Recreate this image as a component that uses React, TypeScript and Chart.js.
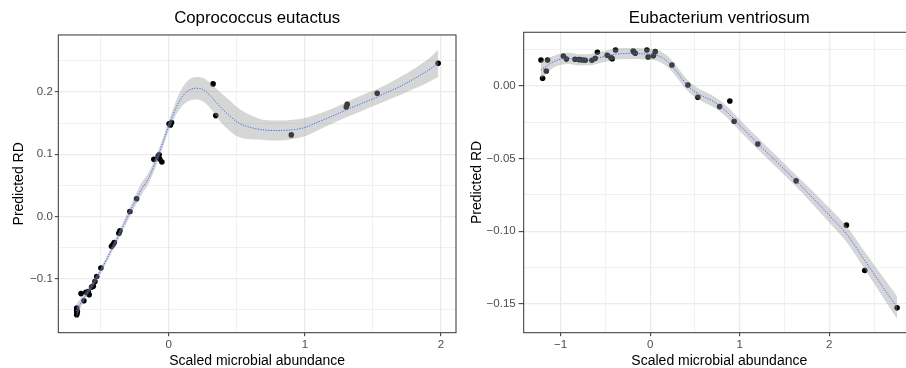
import React, { useEffect, useRef } from "react";
import { Chart, registerables } from "chart.js";

Chart.register(...registerables);

const FONT = "'Liberation Sans', Arial, Helvetica, sans-serif";

// ---------- Left panel: Coprococcus eutactus ----------
const leftTitle = "Coprococcus eutactus";
const leftPointX = [-0.677, -0.677, -0.675, -0.677, -0.672, -0.645, -0.624, -0.609, -0.592, -0.585, -0.567, -0.555, -0.543, -0.53, -0.499, -0.421, -0.41, -0.401, -0.367, -0.359, -0.286, -0.237, -0.11, -0.078, -0.071, -0.066, -0.051, 0.002, 0.012, 0.02, 0.325, 0.345, 0.9, 1.304, 1.311, 1.531, 1.979];
const leftPointY = [-0.147, -0.151, -0.155, -0.158, -0.153, -0.124, -0.1355, -0.122, -0.1205, -0.126, -0.1135, -0.112, -0.1045, -0.0965, -0.083, -0.048, -0.045, -0.042, -0.027, -0.023, 0.008, 0.0285, 0.0917, 0.0965, 0.099, 0.092, 0.0874, 0.149, 0.147, 0.151, 0.213, 0.162, 0.131, 0.176, 0.18, 0.198, 0.246];
const leftFitX = [-0.68, -0.64, -0.6, -0.55, -0.5, -0.45, -0.4, -0.35, -0.3, -0.25, -0.2, -0.15, -0.1, -0.05, 0, 0.05, 0.1, 0.15, 0.2, 0.25, 0.3, 0.35, 0.4, 0.45, 0.5, 0.6, 0.7, 0.8, 0.9, 1.0, 1.1, 1.2, 1.3, 1.4, 1.5, 1.6, 1.7, 1.8, 1.9, 1.98];
const leftFitY = [-0.152, -0.137, -0.123, -0.106, -0.087, -0.066, -0.045, -0.022, 0.001, 0.023, 0.044, 0.061, 0.086, 0.115, 0.146, 0.173, 0.193, 0.203, 0.206, 0.204, 0.195, 0.183, 0.171, 0.161, 0.152, 0.143, 0.139, 0.138, 0.139, 0.143, 0.152, 0.161, 0.171, 0.18, 0.189, 0.199, 0.209, 0.221, 0.234, 0.246];
const leftFitLow = [-0.163, -0.144, -0.128, -0.111, -0.092, -0.071, -0.05, -0.028, -0.006, 0.015, 0.035, 0.052, 0.078, 0.107, 0.138, 0.162, 0.178, 0.186, 0.188, 0.185, 0.175, 0.161, 0.147, 0.137, 0.129, 0.124, 0.123, 0.122, 0.124, 0.129, 0.139, 0.149, 0.159, 0.168, 0.177, 0.186, 0.195, 0.205, 0.215, 0.224];
const leftFitHigh = [-0.141, -0.13, -0.117, -0.101, -0.082, -0.061, -0.039, -0.016, 0.008, 0.032, 0.054, 0.07, 0.094, 0.122, 0.153, 0.184, 0.207, 0.22, 0.224, 0.223, 0.215, 0.205, 0.195, 0.186, 0.176, 0.163, 0.155, 0.154, 0.155, 0.158, 0.165, 0.173, 0.183, 0.193, 0.202, 0.212, 0.224, 0.237, 0.252, 0.268];
const leftXMajor = [0, 1, 2];
const leftXLabels = ["0", "1", "2"];
const leftXMinor = [-0.5, 0.5, 1.5];
const leftYMajor = [-0.1, 0, 0.1, 0.2];
const leftYLabels = ["\u22120.1", "0.0", "0.1", "0.2"];
const leftYMinor = [-0.15, -0.05, 0.05, 0.15, 0.25];

// ---------- Right panel: Eubacterium ventriosum ----------
const rightTitle = "Eubacterium ventriosum";
const rightPointX = [-1.22, -1.146, -1.202, -1.161, -0.97, -0.936, -0.84, -0.8, -0.785, -0.751, -0.725, -0.651, -0.614, -0.59, -0.48, -0.439, -0.424, -0.387, -0.19, -0.186, -0.167, -0.037, -0.024, 0.035, 0.056, 0.242, 0.421, 0.532, 0.775, 0.889, 0.9375, 1.202, 1.629, 2.191, 2.396, 2.757];
const rightPointY = [0.0179, 0.0179, 0.0053, 0.0103, 0.0206, 0.0185, 0.0184, 0.0182, 0.0181, 0.0179, 0.0177, 0.0177, 0.019, 0.0232, 0.0211, 0.0195, 0.0188, 0.0248, 0.024, 0.0235, 0.0225, 0.0248, 0.0199, 0.0208, 0.0236, 0.0144, 0.0007, -0.0078, -0.0142, -0.0103, -0.0243, -0.0399, -0.0653, -0.0958, -0.127, -0.1527];
const rightFitX = [-1.22, -1.15, -1.1, -1.0, -0.9, -0.8, -0.7, -0.6, -0.5, -0.4, -0.3, -0.2, -0.1, 0, 0.1, 0.2, 0.3, 0.4, 0.5, 0.6, 0.7, 0.8, 0.9, 1.0, 1.2, 1.4, 1.6, 1.8, 2.0, 2.2, 2.4, 2.6, 2.757];
const rightFitY = [0.011, 0.014, 0.016, 0.0185, 0.019, 0.018, 0.018, 0.019, 0.0205, 0.0218, 0.0223, 0.0224, 0.0222, 0.0218, 0.0205, 0.0165, 0.0095, 0.0015, -0.004, -0.0075, -0.0105, -0.0148, -0.0205, -0.027, -0.0395, -0.0515, -0.0635, -0.076, -0.089, -0.1025, -0.1205, -0.1385, -0.1525];
const rightFitLow = [0.005, 0.009, 0.0118, 0.0146, 0.0152, 0.0142, 0.0142, 0.0152, 0.0167, 0.018, 0.0185, 0.0186, 0.0184, 0.018, 0.0167, 0.0127, 0.0057, -0.0023, -0.0078, -0.0113, -0.0143, -0.0186, -0.0245, -0.031, -0.0435, -0.0555, -0.0675, -0.0805, -0.094, -0.108, -0.1265, -0.1455, -0.1603];
const rightFitHigh = [0.017, 0.019, 0.0202, 0.0224, 0.0228, 0.0218, 0.0218, 0.0228, 0.0243, 0.0256, 0.0261, 0.0262, 0.026, 0.0256, 0.0243, 0.0203, 0.0133, 0.0053, -0.0002, -0.0037, -0.0067, -0.011, -0.0165, -0.023, -0.0355, -0.0475, -0.0595, -0.0715, -0.084, -0.097, -0.1145, -0.1315, -0.1447];
const rightXMajor = [-1, 0, 1, 2];
const rightXLabels = ["\u22121", "0", "1", "2"];
const rightXMinor = [-0.5, 0.5, 1.5, 2.5];
const rightYMajor = [0, -0.05, -0.1, -0.15];
const rightYLabels = ["0.00", "\u22120.05", "\u22120.10", "\u22120.15"];
const rightYMinor = [0.025, -0.025, -0.075, -0.125];

const xAxisTitle = "Scaled microbial abundance";
const yAxisTitle = "Predicted RD";

type Spec = {
  title: string;
  pointX: number[]; pointY: number[];
  fitX: number[]; fitY: number[]; fitLow: number[]; fitHigh: number[];
  xMajor: number[]; xLabels: string[]; xMinor: number[];
  yMajor: number[]; yLabels: string[]; yMinor: number[];
};

type Layout = {
  left: number; width: number; height: number;
  xMin: number; xMax: number; yMin: number; yMax: number;
  yAxisWidth: number; xAxisHeight: number; padRight: number;
  titlePadTop: number; titlePadBottom: number;
  yTitlePad: number; yTickLength: number; yTickPad: number;
};

const leftSpec: Spec = {
  title: leftTitle, pointX: leftPointX, pointY: leftPointY,
  fitX: leftFitX, fitY: leftFitY, fitLow: leftFitLow, fitHigh: leftFitHigh,
  xMajor: leftXMajor, xLabels: leftXLabels, xMinor: leftXMinor,
  yMajor: leftYMajor, yLabels: leftYLabels, yMinor: leftYMinor,
};
const rightSpec: Spec = {
  title: rightTitle, pointX: rightPointX, pointY: rightPointY,
  fitX: rightFitX, fitY: rightFitY, fitLow: rightFitLow, fitHigh: rightFitHigh,
  xMajor: rightXMajor, xLabels: rightXLabels, xMinor: rightXMinor,
  yMajor: rightYMajor, yLabels: rightYLabels, yMinor: rightYMinor,
};

const leftLayout: Layout = {
  left: 0, width: 460, height: 370,
  xMin: -0.812, xMax: 2.11, yMin: -0.1868, yMax: 0.2916,
  yAxisWidth: 58.3, xAxisHeight: 37.3, padRight: 3.3,
  titlePadTop: 8.3, titlePadBottom: 6.5,
  yTitlePad: 10.8, yTickLength: 3.5, yTickPad: 2,
};
const rightLayout: Layout = {
  left: 453, width: 470, height: 370,
  xMin: -1.413, xMax: 2.956, yMin: -0.1698, yMax: 0.03696,
  yAxisWidth: 70.7, xAxisHeight: 37.3, padRight: 8.1,
  titlePadTop: 8.3, titlePadBottom: 3.8,
  yTitlePad: 16, yTickLength: 5, yTickPad: 3,
};

const near = (list: number[], v: number) => list.findIndex((m) => Math.abs(m - v) < 1e-9);

const framePlugin = {
  id: "panelFrame",
  afterDraw(chart: any) {
    const { ctx, chartArea: a } = chart;
    ctx.save();
    ctx.strokeStyle = "#333333";
    ctx.lineWidth = 1;
    ctx.strokeRect(a.left, a.top, a.right - a.left, a.bottom - a.top);
    ctx.restore();
  },
};

function axisOptions(major: number[], labels: string[], minor: number[], min: number, max: number, horizontal: boolean, L: Layout) {
  const all = [...major, ...minor].sort((a, b) => a - b);
  return {
    type: "linear",
    min,
    max,
    afterBuildTicks: (scale: any) => {
      scale.ticks = all.map((v) => ({ value: v }));
    },
    afterFit: (scale: any) => {
      if (horizontal) scale.height = L.xAxisHeight;
      else scale.width = L.yAxisWidth;
    },
    border: { display: false },
    grid: {
      drawOnChartArea: true,
      drawTicks: true,
      tickLength: horizontal ? 3.5 : L.yTickLength,
      color: "#EBEBEB",
      lineWidth: (ctx: any) => (near(major, ctx.tick ? ctx.tick.value : NaN) >= 0 ? 1.3 : 0.7),
      tickColor: (ctx: any) => (near(major, ctx.tick ? ctx.tick.value : NaN) >= 0 ? "#333333" : "rgba(0,0,0,0)"),
      tickWidth: 1,
    },
    ticks: {
      autoSkip: false,
      maxRotation: 0,
      minRotation: 0,
      padding: horizontal ? 1.8 : L.yTickPad,
      color: "#4D4D4D",
      font: { family: FONT, size: 11.5 },
      callback: (value: number) => {
        const i = near(major, value);
        return i >= 0 ? labels[i] : "";
      },
    },
    title: {
      display: true,
      text: horizontal ? xAxisTitle : yAxisTitle,
      color: "#000000",
      font: { family: FONT, size: 14 },
      padding: horizontal ? { top: 0, bottom: 0.6 } : { top: L.yTitlePad, bottom: 0 },
    },
  };
}

function buildConfig(S: Spec, L: Layout): any {
  const pts = S.pointX.map((x, i) => ({ x, y: S.pointY[i] }));
  const hi = S.fitX.map((x, i) => ({ x, y: S.fitHigh[i] }));
  const lo = S.fitX.map((x, i) => ({ x, y: S.fitLow[i] }));
  const fit = S.fitX.map((x, i) => ({ x, y: S.fitY[i] }));
  return {
    type: "line",
    data: {
      datasets: [
        {
          data: pts,
          showLine: false,
          pointRadius: 2.8,
          pointBackgroundColor: "#000000",
          pointBorderWidth: 0,
          pointBorderColor: "rgba(0,0,0,0)",
          order: 3,
        },
        {
          data: hi,
          fill: "+1",
          backgroundColor: "rgba(153,153,153,0.4)",
          borderColor: "rgba(0,0,0,0)",
          borderWidth: 0,
          pointRadius: 0,
          cubicInterpolationMode: "monotone",
          order: 2,
        },
        {
          data: lo,
          fill: false,
          borderColor: "rgba(0,0,0,0)",
          borderWidth: 0,
          pointRadius: 0,
          cubicInterpolationMode: "monotone",
          order: 2,
        },
        {
          data: fit,
          fill: false,
          borderColor: "#3366FF",
          borderWidth: 1,
          borderDash: [1.2, 1.4],
          pointRadius: 0,
          cubicInterpolationMode: "monotone",
          order: 1,
        },
      ],
    },
    options: {
      responsive: false,
      animation: false,
      devicePixelRatio: 1,
      events: [],
      layout: { padding: { left: 0, right: L.padRight, top: 0, bottom: 0 } },
      plugins: {
        legend: { display: false },
        tooltip: { enabled: false },
        title: {
          display: true,
          text: S.title,
          fullSize: false,
          color: "#000000",
          font: { family: FONT, size: 16.8, weight: "normal" },
          padding: { top: L.titlePadTop, bottom: L.titlePadBottom },
        },
      },
      scales: {
        x: axisOptions(S.xMajor, S.xLabels, S.xMinor, L.xMin, L.xMax, true, L),
        y: axisOptions(S.yMajor, S.yLabels, S.yMinor, L.yMin, L.yMax, false, L),
      },
    },
    plugins: [framePlugin],
  };
}

function Panel({ spec, layout }: { spec: Spec; layout: Layout }) {
  const ref = useRef<HTMLCanvasElement>(null);
  useEffect(() => {
    const chart = new Chart(ref.current as HTMLCanvasElement, buildConfig(spec, layout));
    return () => chart.destroy();
  }, [spec, layout]);
  return (
    <canvas
      ref={ref}
      width={layout.width}
      height={layout.height}
      style={{ position: "absolute", left: layout.left, top: 0, width: layout.width, height: layout.height }}
    />
  );
}

export default function App() {
  return (
    <div
      style={{
        position: "fixed",
        left: 0,
        top: 0,
        width: 906,
        height: 368,
        overflow: "hidden",
        background: "#FFFFFF",
      }}
    >
      <Panel spec={leftSpec} layout={leftLayout} />
      <Panel spec={rightSpec} layout={rightLayout} />
    </div>
  );
}
